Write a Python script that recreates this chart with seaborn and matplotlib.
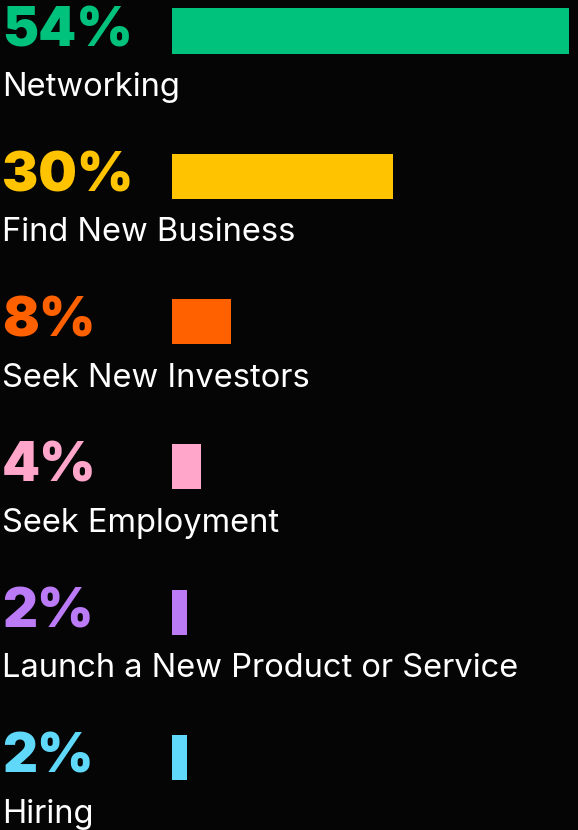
import matplotlib
matplotlib.use("Agg")
import matplotlib.pyplot as plt
import matplotlib.transforms as mtransforms
import seaborn as sns
import pandas as pd

# ── Data ───────────────────────────────────────────────────────────────────
categories = ["Networking", "Find New Business", "Seek New Investors",
              "Seek Employment", "Launch a New Product or Service", "Hiring"]
shares = [54, 30, 8, 4, 2, 2]
colors = ["#00C27C", "#FFC300", "#FF6100", "#FFA6CA", "#BB7BF7", "#5FD8FA"]

BG = "#050505"
W, H, DPI = 578, 830, 100

sns.set_theme(style="white")
plt.rcParams["font.family"] = ["Inter", "DejaVu Sans"]

df = pd.DataFrame({"cat": categories, "share": shares})

fig = plt.figure(figsize=(W / DPI, H / DPI), dpi=DPI, facecolor=BG)
ax = fig.add_axes([172 / W, 0, 1 - 172 / W, 1])
ax.set_facecolor(BG)

sns.barplot(data=df, x="share", y="cat", hue="cat", palette=colors,
            orient="h", width=0.31, saturation=1, linewidth=0,
            legend=False, ax=ax)

step = 145.3  # px between rows
ax.set_xlim(0, 406 / 7.35)
ax.set_ylim(len(categories) - 1 + (H - 757.5) / step, -31 / step)
ax.axis("off")

tr = mtransforms.blended_transform_factory(fig.transFigure, ax.transData)
for i, (cat, val, col) in enumerate(zip(categories, shares, colors)):
    ax.text(2 / W, i + 15 / step, f"{val}%", transform=tr, color=col,
            fontsize=39, fontweight="black", va="baseline", ha="left")
    ax.text(2 / W, i + 65 / step, cat, transform=tr, color="white",
            fontsize=23.5, va="baseline", ha="left")

fig.savefig("out.png", dpi=DPI, facecolor=BG)
